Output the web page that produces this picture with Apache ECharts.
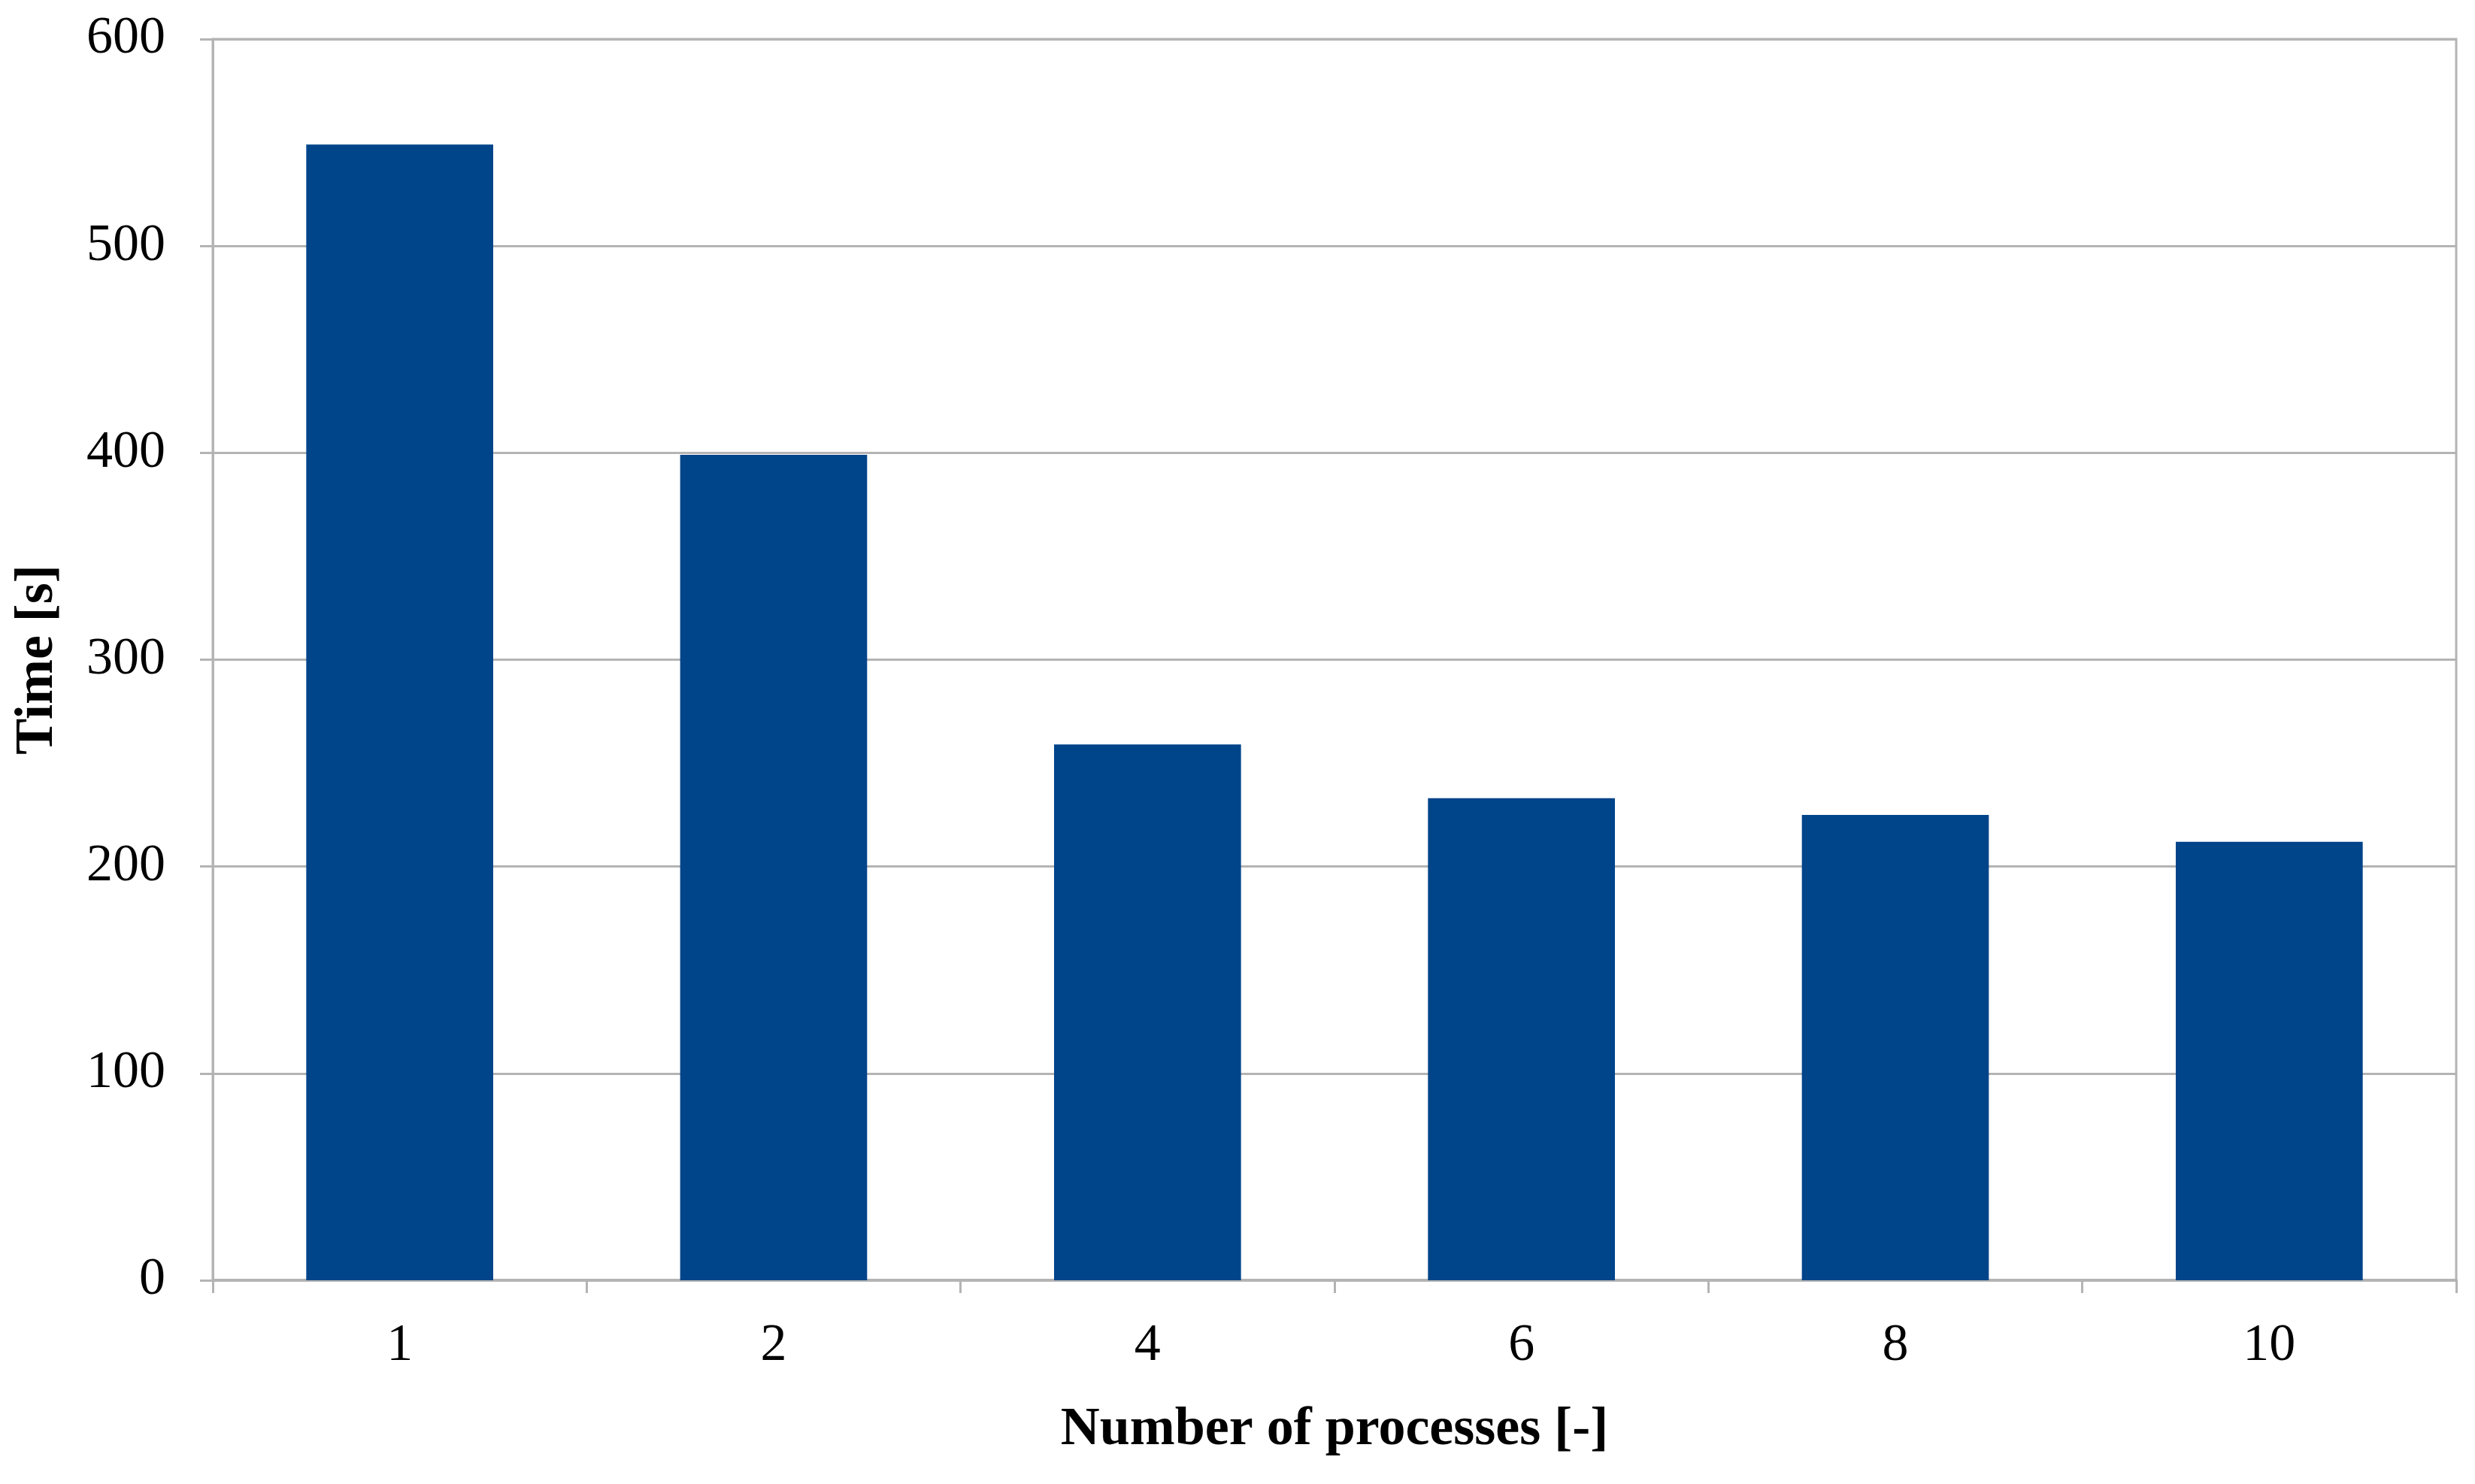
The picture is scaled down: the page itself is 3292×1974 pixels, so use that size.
<!DOCTYPE html>
<html>
<head>
<meta charset="utf-8">
<script src="https://cdn.jsdelivr.net/npm/echarts@6/dist/echarts.min.js"></script>
<style>
html, body { margin: 0; padding: 0; background: #ffffff; }
#chart { width: 3292px; height: 1974px; }
</style>
</head>
<body>
<div id="chart"></div>
<script>
// categories and values
var processes = ['1', '2', '4', '6', '8', '10'];
var timeValues = [549, 399, 259, 233, 225, 212];
var yTicks = [0, 100, 200, 300, 400, 500, 600];

var chart = echarts.init(document.getElementById('chart'));
var gridGray = '#b4b4b4';
var fontFam = '"Liberation Serif", "Times New Roman", serif';

var option = {
	backgroundColor : '#ffffff',
	animation : false,
	grid : {
		left : 283,
		right : 25,
		top : 52,
		bottom : 271,
		show : true,
		borderColor : gridGray,
		borderWidth : 3
	},
	xAxis : {
		type : 'category',
		data : processes,
		name : 'Number of processes [-]',
		nameLocation : 'middle',
		nameGap : 163,
		nameTextStyle : {
			fontFamily : fontFam,
			fontWeight : 'bold',
			fontSize : 72,
			color : '#000000'
		},
		axisLine : { lineStyle : { color : gridGray, width : 4 } },
		axisTick : { show : true, length : 17, lineStyle : { color : gridGray, width : 3 } },
		axisLabel : {
			margin : 53,
			fontFamily : fontFam,
			fontSize : 70,
			color : '#000000'
		}
	},
	yAxis : {
		type : 'value',
		min : yTicks[0],
		max : yTicks[yTicks.length - 1],
		interval : 100,
		name : 'Time [s]',
		nameLocation : 'middle',
		nameGap : 197,
		nameTextStyle : {
			fontFamily : fontFam,
			fontWeight : 'bold',
			fontSize : 72,
			color : '#000000'
		},
		axisLine : { show : true, lineStyle : { color : gridGray, width : 3 } },
		axisTick : { show : true, length : 17, lineStyle : { color : gridGray, width : 3 } },
		splitLine : { lineStyle : { color : gridGray, width : 3 } },
		axisLabel : {
			margin : 63,
			fontFamily : fontFam,
			fontSize : 70,
			color : '#000000'
		}
	},
	series : [ {
		name : 'Time',
		type : 'bar',
		data : timeValues,
		barCategoryGap : '50%',
		itemStyle : { color : '#00448a' }
	} ]
};
chart.setOption(option);
</script>
</body>
</html>
